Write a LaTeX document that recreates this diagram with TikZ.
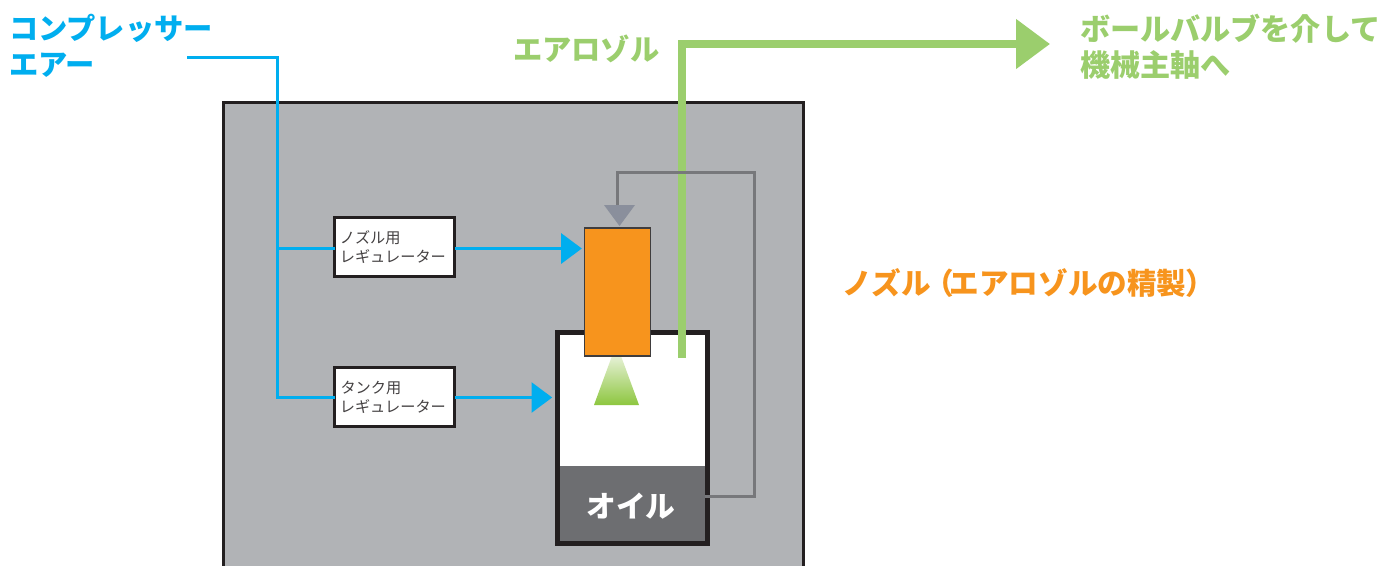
\documentclass[tikz,border=0pt]{standalone}
\usepackage{fontspec}
\setmainfont{Noto Sans CJK JP}
\usetikzlibrary{arrows.meta,calc}
\definecolor{cyanline}{HTML}{00AEEF}
\definecolor{leaf}{HTML}{9BCE6D}
\definecolor{sprayend}{HTML}{8DC63F}
\definecolor{spraytop}{HTML}{E6F1D6}
\definecolor{panel}{HTML}{B1B3B6}
\definecolor{frame}{HTML}{231F20}
\definecolor{nozzle}{HTML}{F7941D}
\definecolor{oilgray}{HTML}{6D6E71}
\definecolor{loopgray}{HTML}{77787B}
\definecolor{loophead}{HTML}{8A8F9C}
\tikzset{
  x=0.75pt,y=-0.75pt,
  every node/.style={inner sep=0pt,outer sep=0pt},
  panelbox/.style={fill=panel,draw=frame,line width=2.25pt},
  regbox/.style={fill=white,draw=frame,line width=2.25pt,minimum width=90pt,minimum height=44.5pt,
    text width=83pt,align=left,font=\fontsize{11.4pt}{14.2pt}\selectfont,text=frame!85!white},
  tankbox/.style={draw=frame,fill=white,line width=3.7pt,minimum width=112.5pt,minimum height=158.25pt},
  oilbox/.style={fill=oilgray,minimum width=109pt,minimum height=56.5pt},
  oiltext/.style={text=white,font=\fontsize{22.3pt}{26pt}\selectfont\bfseries},
  nozzlebox/.style={fill=nozzle,draw=frame!80!panel,line width=0.9pt,minimum width=49.5pt,minimum height=96pt},
  airline/.style={draw=cyanline,line width=2.25pt},
  airarrow/.style={airline,-{Triangle[length=15.5pt,width=22.5pt]}},
  aeroline/.style={draw=leaf,line width=6pt},
  looparrow/.style={draw=loopgray,line width=2.25pt},
  label/.style={font=\fontsize{21.95pt}{27pt}\selectfont\bfseries,align=left,anchor=west},
}
\begin{document}
\begin{tikzpicture}
\useasboundingbox (0,0) rectangle (1381,565);
\clip (0,0) rectangle (1381,565);
\fill[white] (0,0) rectangle (1381,565);
% panel
\node[panelbox,anchor=north west,minimum width=435pt,minimum height=400pt] (panel) at (223.5,102.5) {};
% tank
\node[tankbox,anchor=north west] (tank) at (557.5,332.5) {};
\node[oilbox,anchor=north west] (oil) at (560,466) {};
\node[oiltext] (oillabel) at (631,506) {オイル};
% spray
\shade[top color=spraytop,bottom color=sprayend]
  (612,356) -- (621,356) -- (639,405) -- (594,405) -- cycle;
% regulators
\node[regbox,anchor=north west] (rega) at (334.5,217.5) {\hspace{0.5pt}ノズル用\\\hspace{0.5pt}レギュレーター};
\node[regbox,anchor=north west] (regb) at (334.5,367.5) {\hspace{1pt}タンク用\\\hspace{0.5pt}レギュレーター};
% air
\coordinate (airstart) at (187,57.5);
\coordinate (aircorner) at (277.5,57.5);
\coordinate (airbranch) at (277.5,248.5);
\coordinate (airbottom) at (277.5,397.5);
\draw[airline] (airstart) -- (aircorner) -- (airbottom) -- (regb.west |- airbottom);
\draw[airline] (airbranch) -- (rega.west |- airbranch);
% aerosol
\coordinate (aerofoot) at (682,358);
\coordinate (aerocorner) at (682,44);
\coordinate (aerotip) at (1050,44);
\draw[aeroline,line join=miter,-{Triangle[length=25.5pt,width=36pt]}] (aerofoot) -- (aerocorner) -- (aerotip);
% nozzle
\node[nozzlebox,anchor=north west] (noz) at (584.5,228) {};
\draw[airarrow,shorten >=2pt] (rega.east |- 0,248.5) -- (noz.west |- 0,248.5);
\draw[airarrow,shorten >=4pt] (regb.east |- 0,397.5) -- (tank.west |- 0,397.5);
% return
\coordinate (loopr) at (754.5,496.5);
\coordinate (looptr) at (754.5,172.5);
\coordinate (looptl) at (617.5,172.5);
\coordinate (loophead) at (617.5,206);
\draw[looparrow] (oil.east |- loopr) -- (loopr) -- (looptr) -- (looptl) -- (loophead);
\fill[loophead] (604,205) -- (635,205) -- (619.5,226) -- cycle;
% labels
\node[label,text=cyanline] (lair) at (9,46) {コンプレッサー\\エアー};
\node[label,text=leaf] (laero) at (513,49) {エアロゾル};
\node[label,text=leaf,font=\fontsize{22.6pt}{27pt}\selectfont\bfseries] (ldest) at (1080,47) {ボールバルブを介して\\機械主軸へ};
\node[label,text=nozzle,font=\fontsize{22.2pt}{27pt}\selectfont\bfseries] (lnoz) at (842,283) {ノズル\kern-5pt（\kern-3pt エアロゾルの精製\kern-1pt）};
\end{tikzpicture}
\end{document}
